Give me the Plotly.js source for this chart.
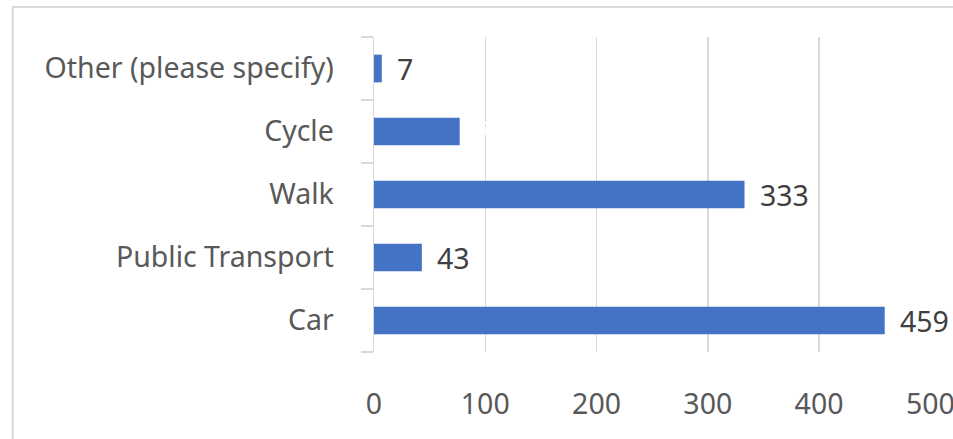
<!DOCTYPE html>
<html>
<head>
<meta charset="utf-8">
<script src="https://cdn.plot.ly/plotly-3.0.1.min.js"></script>
<style>html,body{margin:0;padding:0;background:#fff;}#chart{width:953px;height:439px;}</style>
</head>
<body>
<div id="chart"></div>
<script>
var categories = ["Car", "Public Transport", "Walk", "Cycle", "Other (please specify)"];
var values = [459, 43, 333, 77, 7];
var labelColors = ["#404040", "#404040", "#404040", "#ffffff", "#404040"];
var xTicks = [0, 100, 200, 300, 400, 500];

var FONT = "Noto Sans, Open Sans, sans-serif";

var trace = {
  type: "bar",
  orientation: "h",
  y: categories,
  x: values,
  width: 0.44,
  marker: {color: "#4472c4"},
  hoverinfo: "none"
};

var annotations = categories.map(function (c, i) {
  return {
    x: values[i], y: c, xref: "x", yref: "y",
    text: String(values[i]), showarrow: false,
    xanchor: "left", xshift: 13,
    font: {family: FONT, size: 28.5, color: labelColors[i]}
  };
});

var layout = {
  width: 953, height: 439,
  margin: {l: 374, r: 22, t: 37, b: 87, pad: 0},
  paper_bgcolor: "#ffffff", plot_bgcolor: "#ffffff",
  showlegend: false,
  font: {family: FONT, size: 28.5, color: "#595959"},
  xaxis: {
    range: [0, 500.6], tickvals: xTicks, ticktext: xTicks.map(String),
    showgrid: true, gridcolor: "#d9d9d9", gridwidth: 1.5,
    zeroline: false, showline: false, ticks: "",
    ticklabelstandoff: 32, ticklabeloverflow: "allow", automargin: false, fixedrange: true,
    tickfont: {family: FONT, size: 28.5, color: "#595959"}
  },
  yaxis: {
    type: "category", categoryorder: "array", categoryarray: categories,
    showgrid: false, zeroline: false,
    showline: true, linecolor: "#d9d9d9", linewidth: 1.5,
    ticks: "outside", tickson: "boundaries", ticklen: 12, tickcolor: "#d9d9d9", tickwidth: 1.5,
    ticklabelstandoff: 33, automargin: false,
    tickfont: {family: FONT, size: 28.5, color: "#595959"}
  },
  shapes: [{
    type: "rect", xref: "paper", yref: "paper",
    x0: -0.6486, x1: 1.2, y0: -0.5, y1: 1.0952,
    line: {color: "#d9d9d9", width: 2}, fillcolor: "rgba(0,0,0,0)", layer: "below"
  }],
  annotations: annotations
};

Plotly.newPlot("chart", [trace], layout, {displayModeBar: false, staticPlot: true});
</script>
</body>
</html>
